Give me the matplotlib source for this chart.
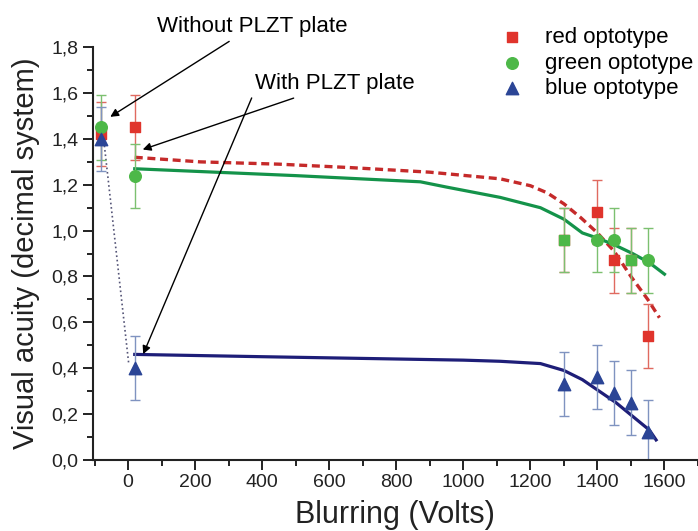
import numpy as np
import matplotlib
matplotlib.use("Agg")
import matplotlib.pyplot as plt
from matplotlib.ticker import MultipleLocator, FuncFormatter

plt.rcParams['font.family'] = ['Liberation Sans', 'DejaVu Sans']

# measured acuity (decimal) vs blurring voltage
red_x = [-80, 20, 1300, 1400, 1450, 1500, 1550]
red_y = [1.42, 1.45, 0.96, 1.08, 0.87, 0.87, 0.54]
green_x = [-80, 20, 1300, 1400, 1450, 1500, 1550]
green_y = [1.45, 1.24, 0.96, 0.96, 0.96, 0.87, 0.87]
green_mk = ['o', 'o', 's', 'o', 'o', 's', 'o']
blue_x = [-80, 20, 1300, 1400, 1450, 1500, 1550]
blue_y = [1.40, 0.40, 0.33, 0.36, 0.29, 0.25, 0.12]
err = 0.14

# fitted curves
red_fit_x = [20, 215, 450, 663, 900, 1110, 1200, 1250, 1300, 1350, 1400, 1450, 1500, 1550, 1585]
red_fit_y = [1.32, 1.30, 1.29, 1.275, 1.255, 1.226, 1.196, 1.165, 1.117, 1.057, 0.99, 0.91, 0.80, 0.70, 0.62]
green_fit_x = [20, 500, 872, 950, 1110, 1230, 1300, 1355, 1405, 1455, 1505, 1555, 1600]
green_fit_y = [1.27, 1.24, 1.213, 1.19, 1.145, 1.10, 1.05, 0.99, 0.965, 0.935, 0.90, 0.86, 0.81]
blue_fit_x = [20, 400, 800, 1000, 1110, 1230, 1300, 1355, 1405, 1455, 1505, 1555, 1575]
blue_fit_y = [0.46, 0.45, 0.44, 0.435, 0.43, 0.42, 0.39, 0.35, 0.30, 0.25, 0.19, 0.13, 0.087]
drop_x = [-72, 2]
drop_y = [1.39, 0.42]

fig = plt.figure(figsize=(6.98, 5.31), dpi=100)
ax = fig.add_axes([0.133, 0.134, 0.867, 0.777])

c_red, c_green, c_blue = '#e0342c', '#4db848', '#2b4596'

ax.plot(drop_x, drop_y, ls=':', color='#555577', lw=1.2)
ax.plot(red_fit_x, red_fit_y, ls=(0, (2.4, 1.4)), color='#c52a2a', lw=2.4)
ax.plot(green_fit_x, green_fit_y, color='#14934a', lw=2.3)
ax.plot(blue_fit_x, blue_fit_y, color='#1e1e78', lw=2.3)

ax.errorbar(red_x, red_y, yerr=err, fmt='none', ecolor='#e06a60', elinewidth=1, capsize=3.5, capthick=1)
ax.errorbar(green_x, green_y, yerr=err, fmt='none', ecolor='#7cc070', elinewidth=1, capsize=3.5, capthick=1)
ax.errorbar(blue_x, blue_y, yerr=err, fmt='none', ecolor='#7f93c0', elinewidth=1, capsize=3.5, capthick=1)

ax.scatter(red_x, red_y, marker='s', s=60, color=c_red, zorder=3, label='red optotype')
for x, y, m in zip(green_x, green_y, green_mk):
    ax.scatter(x, y, marker=m, s=70 if m == 'o' else 60, color=c_green, zorder=4)
ax.scatter([], [], marker='o', s=70, color=c_green, label='green optotype')
ax.scatter(blue_x, blue_y, marker='^', s=80, color=c_blue, zorder=5, label='blue optotype')

ax.set_xlim(-105, 1700)
ax.set_ylim(0, 1.8)
ax.xaxis.set_major_locator(MultipleLocator(200))
ax.xaxis.set_minor_locator(MultipleLocator(100))
ax.yaxis.set_major_locator(MultipleLocator(0.2))
ax.yaxis.set_minor_locator(MultipleLocator(0.1))
ax.yaxis.set_major_formatter(FuncFormatter(lambda v, p: f'{v:.1f}'.replace('.', ',')))
ax.tick_params(which='major', length=7, width=1.4, labelsize=14, color='#222222', labelcolor='#222222')
ax.tick_params(which='minor', length=4, width=1.4, color='#222222')
for s in ['top', 'right']:
    ax.spines[s].set_visible(False)
for s in ['left', 'bottom']:
    ax.spines[s].set_linewidth(1.5)
    ax.spines[s].set_color('#222222')

ax.set_xlabel('Blurring (Volts)', fontsize=22, color='#222222', labelpad=6)
ax.set_ylabel('Visual acuity (decimal system)', fontsize=21, color='#222222', labelpad=8)

arrow = dict(arrowstyle='-|>', color='black', lw=1, mutation_scale=12)
ax.annotate('Without PLZT plate', xy=(-60, 1.49), xytext=(87, 1.89), fontsize=16,
            arrowprops=arrow, va='center', ha='left', annotation_clip=False)
ax.annotate('With PLZT plate', xy=(36, 1.35), xytext=(380, 1.64), fontsize=16,
            arrowprops=arrow, va='center', ha='left')
ax.annotate('', xy=(42, 0.45), xytext=(372, 1.59), arrowprops=arrow)

ax.legend(loc='upper right', bbox_to_anchor=(1.007, 1.07), frameon=False, fontsize=16,
          handletextpad=0.5, labelspacing=0.2, borderaxespad=0, scatterpoints=1)

fig.savefig('out.png', dpi=100)
